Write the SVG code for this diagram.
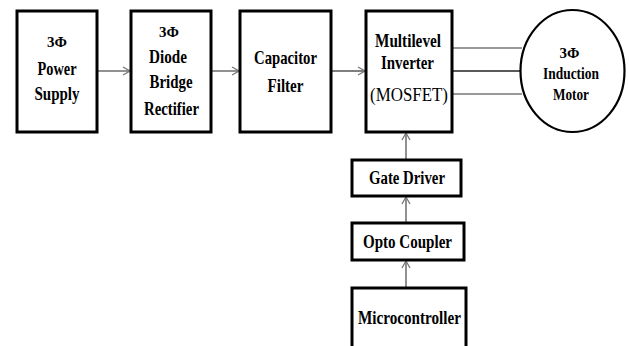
<svg xmlns="http://www.w3.org/2000/svg" width="629" height="346" viewBox="0 0 629 346">
<defs>
<style>
.box{fill:#fff;stroke:#000;stroke-width:3}
.t{font-family:"Liberation Serif","Times New Roman",serif;font-weight:bold;fill:#000;text-anchor:middle}
.r{font-family:"Liberation Serif","Times New Roman",serif;fill:#000;text-anchor:middle}
.c{stroke:#555;stroke-width:1.3;fill:none}
.w{stroke:#777;stroke-width:1.5;fill:none}
</style>
<marker id="ah" viewBox="0 0 10 10" refX="9" refY="5" markerWidth="10" markerHeight="10" markerUnits="userSpaceOnUse" orient="auto">
<path d="M2,1 L9,5 L2,9" fill="none" stroke="#777" stroke-width="1.3"/>
</marker>
</defs>
<rect width="629" height="346" fill="#fff"/>
<g id="connectors">
<line class="c" x1="98" y1="71" x2="130" y2="71" marker-end="url(#ah)"/>
<line class="c" x1="212" y1="71" x2="239" y2="71" marker-end="url(#ah)"/>
<line class="c" x1="332" y1="71" x2="365" y2="71" marker-end="url(#ah)"/>
<line class="w" x1="452" y1="48" x2="522" y2="48"/>
<line class="c" x1="452" y1="71" x2="520" y2="71" style="stroke:#222"/>
<line class="w" x1="452" y1="94" x2="522" y2="94"/>
<line class="c" x1="406" y1="159" x2="406" y2="133" marker-end="url(#ah)"/>
<line class="c" x1="406" y1="222" x2="406" y2="197" marker-end="url(#ah)"/>
<line class="c" x1="406" y1="287" x2="406" y2="261" marker-end="url(#ah)"/>
</g>
<g id="power">
<rect class="box" x="17" y="11" width="80" height="121"/>
<text class="t" x="57" y="47" font-size="15">3Φ</text>
<text class="t" x="57" y="75" font-size="19" textLength="39" lengthAdjust="spacingAndGlyphs">Power</text>
<text class="t" x="57" y="100" font-size="19" textLength="45" lengthAdjust="spacingAndGlyphs">Supply</text>
</g>
<g id="rectifier">
<rect class="box" x="131" y="11" width="80" height="121"/>
<text class="t" x="169" y="37" font-size="15">3Φ</text>
<text class="t" x="168" y="63" font-size="19" textLength="38" lengthAdjust="spacingAndGlyphs">Diode</text>
<text class="t" x="171" y="88" font-size="19" textLength="43" lengthAdjust="spacingAndGlyphs">Bridge</text>
<text class="t" x="171.5" y="115" font-size="19" textLength="55" lengthAdjust="spacingAndGlyphs">Rectifier</text>
</g>
<g id="filter">
<rect class="box" x="240" y="11" width="91" height="121"/>
<text class="t" x="285.5" y="64" font-size="19" textLength="63" lengthAdjust="spacingAndGlyphs">Capacitor</text>
<text class="t" x="285.5" y="92" font-size="19" textLength="36" lengthAdjust="spacingAndGlyphs">Filter</text>
</g>
<g id="inverter">
<rect class="box" x="366" y="11" width="86" height="121"/>
<text class="t" x="408" y="47" font-size="19" textLength="66" lengthAdjust="spacingAndGlyphs">Multilevel</text>
<text class="t" x="407.5" y="69" font-size="19" textLength="53" lengthAdjust="spacingAndGlyphs">Inverter</text>
<text class="r" x="409" y="101" font-size="18" textLength="78" lengthAdjust="spacingAndGlyphs">(MOSFET)</text>
</g>
<g id="motor">
<ellipse cx="572.5" cy="71" rx="52" ry="61" fill="#fff" stroke="#000" stroke-width="2.2"/>
<text class="t" x="569.5" y="58" font-size="15">3Φ</text>
<text class="t" x="571" y="79" font-size="17" textLength="56" lengthAdjust="spacingAndGlyphs">Induction</text>
<text class="t" x="571" y="100" font-size="17" textLength="36" lengthAdjust="spacingAndGlyphs">Motor</text>
</g>
<g id="gatedriver">
<rect class="box" x="352" y="160" width="109" height="36"/>
<text class="t" x="407" y="184" font-size="18" textLength="76" lengthAdjust="spacingAndGlyphs">Gate Driver</text>
</g>
<g id="optocoupler">
<rect class="box" x="352" y="223" width="112" height="37"/>
<text class="t" x="407.5" y="248" font-size="18" textLength="89" lengthAdjust="spacingAndGlyphs">Opto Coupler</text>
</g>
<g id="microcontroller">
<rect class="box" x="352" y="288" width="114" height="70"/>
<text class="t" x="409.5" y="324" font-size="18" textLength="103" lengthAdjust="spacingAndGlyphs">Microcontroller</text>
</g>
</svg>
